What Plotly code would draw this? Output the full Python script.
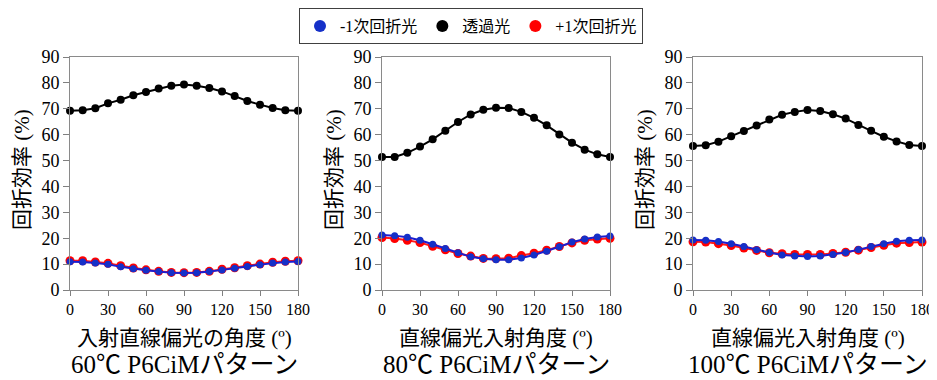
import plotly.graph_objects as go

angles = list(range(0, 181, 10))

panel_titles = ["60℃ P6CiMパターン", "80℃ P6CiMパターン", "100℃ P6CiMパターン"]
x_titles = ["入射直線偏光の角度 (º)", "直線偏光入射角度 (º)", "直線偏光入射角度 (º)"]
y_title = "回折効率 (%)"
series_names = ["-1次回折光", "透過光", "+1次回折光"]
x_ticks = [0, 30, 60, 90, 120, 150, 180]
y_ticks = [0, 10, 20, 30, 40, 50, 60, 70, 80, 90]

# 60℃
minus1_60 = [10.9, 10.8, 10.4, 9.9, 9.0, 8.2, 7.6, 7.1, 6.7, 6.6, 6.7, 7.1, 7.7, 8.4, 9.1, 9.8, 10.4, 10.8, 11.0]
trans_60 = [69.2, 69.4, 70.2, 72.1, 73.5, 75.2, 76.5, 77.8, 78.9, 79.4, 78.9, 78.0, 76.7, 74.9, 73.0, 71.6, 70.3, 69.4, 69.2]
plus1_60 = [11.3, 11.3, 10.8, 10.3, 9.4, 8.5, 7.8, 7.2, 6.8, 6.7, 6.8, 7.2, 8.0, 8.6, 9.4, 10.0, 10.7, 11.1, 11.3]

# 80℃
minus1_80 = [21.2, 21.0, 20.4, 19.2, 17.7, 16.0, 14.4, 12.8, 12.1, 11.7, 11.7, 12.4, 13.5, 15.0, 16.7, 18.5, 19.7, 20.5, 20.9]
trans_80 = [51.4, 51.4, 53.0, 55.4, 58.2, 61.5, 64.9, 67.8, 69.6, 70.4, 70.3, 68.8, 66.5, 63.6, 60.1, 56.9, 54.2, 52.4, 51.4]
plus1_80 = [20.3, 19.9, 19.2, 18.3, 16.9, 15.5, 14.1, 13.1, 12.2, 12.1, 12.3, 13.3, 14.2, 15.4, 16.8, 18.2, 19.2, 19.7, 20.0]

# 100℃
minus1_100 = [19.3, 19.2, 18.7, 17.9, 16.8, 15.5, 14.5, 13.5, 13.1, 12.9, 13.1, 13.7, 14.5, 15.6, 16.8, 17.9, 18.8, 19.2, 19.3]
trans_100 = [55.6, 55.9, 57.3, 59.4, 61.4, 63.5, 65.9, 67.7, 68.8, 69.5, 69.1, 67.9, 66.2, 63.7, 61.5, 59.2, 57.4, 56.0, 55.6]
plus1_100 = [18.6, 18.5, 17.9, 17.2, 16.2, 15.3, 14.4, 14.0, 13.7, 13.7, 13.7, 14.1, 14.6, 15.4, 16.4, 17.3, 18.1, 18.3, 18.5]

panels = [
    (minus1_60, trans_60, plus1_60),
    (minus1_80, trans_80, plus1_80),
    (minus1_100, trans_100, plus1_100),
]

# the page body has an 8px default margin, so the figure is offset by 8px
OFF = 8
W, H = 937 - OFF, 380 - OFF
FONT = "Liberation Serif, Noto Sans CJK JP, serif"
x_px = [(70 - OFF, 298 - OFF), (382 - OFF, 610 - OFF), (693 - OFF, 922 - OFF)]
y_px = (57 - OFF, 290 - OFF)

colors_line = {"blue": "#1c1cd0", "black": "#000000", "red": "#ff1a1a"}
colors_mk = {"blue": "#1530c8", "black": "#000000", "red": "#ff0000"}
msize = {"blue": 7, "black": 8, "red": 9}

fig = go.Figure()

for i, (m1, tr, p1) in enumerate(panels):
    xa = "x" if i == 0 else f"x{i+1}"
    ya = "y" if i == 0 else f"y{i+1}"
    # draw order: black, red, blue (blue on top); legend order blue, black, red
    for key, vals, name, rank in [("black", tr, series_names[1], 2),
                                  ("red", p1, series_names[2], 3),
                                  ("blue", m1, series_names[0], 1)]:
        fig.add_trace(go.Scatter(x=angles, y=vals, mode="lines", xaxis=xa, yaxis=ya,
                                 line=dict(color=colors_line[key], width=2),
                                 showlegend=False, hoverinfo="skip", cliponaxis=False))
        fig.add_trace(go.Scatter(x=angles, y=vals, mode="markers", xaxis=xa, yaxis=ya,
                                 name=name, legendrank=rank, showlegend=(i == 0),
                                 marker=dict(color=colors_mk[key], size=msize[key], line=dict(width=0)),
                                 cliponaxis=False))

layout = dict(
    width=W, height=H,
    margin=dict(l=0, r=0, t=0, b=0, autoexpand=False),
    paper_bgcolor="white", plot_bgcolor="white",
    font=dict(family=FONT, color="#000000"),
    showlegend=True,
    legend=dict(orientation="h", x=(471 - OFF) / W, xanchor="center", y=1.0, yanchor="top",
                bordercolor="#404040", borderwidth=1, font=dict(size=16, family=FONT),
                itemwidth=30, itemsizing="constant", bgcolor="white", tracegroupgap=0),
)

annotations = []
for i in range(3):
    sfx = "" if i == 0 else str(i + 1)
    x0, x1 = x_px[i]
    layout["xaxis" + sfx] = dict(
        domain=[x0 / W, x1 / W], anchor="y" + sfx, range=[0, 180],
        tickvals=x_ticks, ticks="outside", ticklen=5, tickcolor="#808080",
        showline=True, linecolor="#8a8a8a", linewidth=1, mirror=True,
        showgrid=False, zeroline=False, tickfont=dict(size=16, family=FONT),
    )
    layout["yaxis" + sfx] = dict(
        domain=[1 - y_px[1] / H, 1 - y_px[0] / H], anchor="x" + sfx, range=[0, 90],
        tickvals=y_ticks, ticks="outside", ticklen=6, tickcolor="#808080",
        showline=True, linecolor="#8a8a8a", linewidth=1, mirror=True,
        showgrid=False, zeroline=False, tickfont=dict(size=18, family=FONT),
    )
    annotations.append(dict(text=x_titles[i], xref=f"x{sfx} domain", x=0.5, yref="paper",
                            y=1 - (338 - OFF) / H, xanchor="center", yanchor="middle", showarrow=False,
                            font=dict(size=21, family=FONT)))
    annotations.append(dict(text=panel_titles[i], xref=f"x{sfx} domain", x=0.5, yref="paper",
                            y=1 - (364 - OFF) / H, xanchor="center", yanchor="middle", showarrow=False,
                            font=dict(size=25, family=FONT)))
    annotations.append(dict(text=y_title, xref="paper", x=(x0 - 48) / W, yref="paper",
                            y=1 - (170 - OFF) / H, xanchor="center", yanchor="middle", showarrow=False,
                            textangle=-90, font=dict(size=21, family=FONT)))

layout["annotations"] = annotations
fig.update_layout(**layout)
fig.write_html("out.html")
